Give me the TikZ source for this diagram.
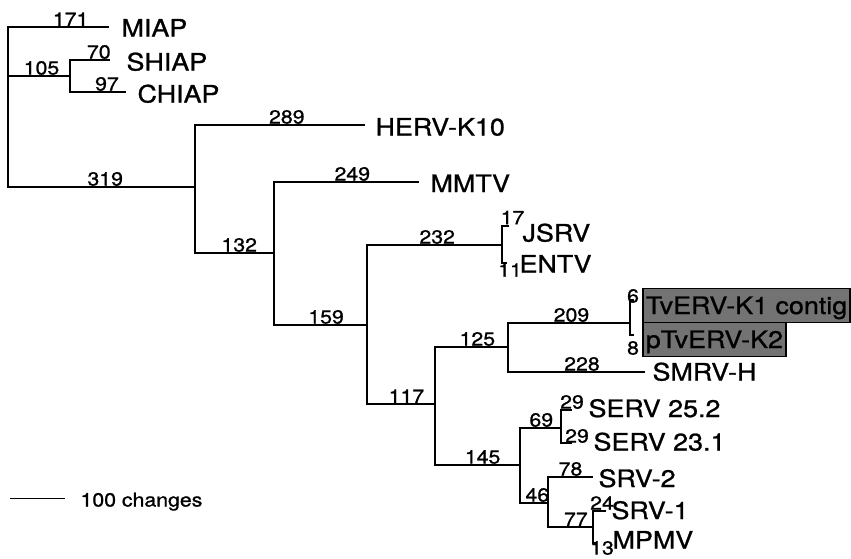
\documentclass[tikz,border=0pt]{standalone}
\usepackage{fontspec}
\setmainfont{TeX Gyre Heros}[FakeStretch=1.12,FakeBold=1.0]
\usetikzlibrary{positioning}

\begin{document}
\begin{tikzpicture}[x=1pt,y=-1pt,line width=1.1pt,
  taxon/.style={anchor=west,inner sep=0pt,font=\fontsize{24}{24}\selectfont,text height=17pt,text depth=0pt},
  num/.style={above,inner sep=0.6pt,font=\fontsize{19}{20}\selectfont},
  tipnum/.style={inner sep=0pt,font=\fontsize{19}{20}\selectfont},
  hilite/.style={taxon,draw=black,fill=black!55,line width=1.6pt,inner xsep=3pt,minimum height=34pt}]
  \useasboundingbox (0,0) rectangle (851,558);
  % internal nodes
  \coordinate (r0) at (8,107);
  \coordinate (n105) at (70,76);
  \coordinate (n319) at (195,187);
  \coordinate (n132) at (274,253);
  \coordinate (n159) at (367,325);
  \coordinate (n232) at (502,245);
  \coordinate (n117) at (435,404);
  \coordinate (n125) at (508,347);
  \coordinate (n209) at (630,323);
  \coordinate (n145) at (520,465);
  \coordinate (n69) at (561,428);
  \coordinate (n46) at (548,503);
  \coordinate (n77) at (593,527);
  % tips
  \coordinate (tMIAP) at (109,27);
  \coordinate (tSHIAP) at (110,60);
  \coordinate (tCHIAP) at (126,92);
  \coordinate (tHERV) at (365,125);
  \coordinate (tMMTV) at (419,182);
  \coordinate (tJSRV) at (509,226);
  \coordinate (tENTV) at (507,263);
  \coordinate (tTvK1) at (634,300);
  \coordinate (tTvK2) at (634,335);
  \coordinate (tSMRV) at (645,372);
  \coordinate (tSERVa) at (572,410);
  \coordinate (tSERVb) at (572,443);
  \coordinate (tSRVtwo) at (593,477);
  \coordinate (tSRVone) at (606,511);
  \coordinate (tMPMV) at (597,543);

  \draw (r0) |- (tMIAP) node[num,pos=.81] (l171) {171};
  \draw (r0) |- (n105) node[num,pos=.77] (l105) {105};
  \draw (n105) |- (tSHIAP) node[num,pos=.86] (l70) {70};
  \draw (n105) |- (tCHIAP) node[num,pos=.83] (l97) {97};
  \draw (r0) |- (n319) node[num,pos=.76] (l319) {319};
  \draw (n319) |- (tHERV) node[num,pos=.77] (l289) {289};
  \draw (n319) |- (n132) node[num,pos=.78] (l132) {132};
  \draw (n132) |- (tMMTV) node[num,pos=.77] (l249) {249};
  \draw (n132) |- (n159) node[num,pos=.78] (l159) {159};
  \draw (n159) |- (n232) node[num,pos=.76] (l232) {232};
  \draw (n232) |- (tJSRV);
  \draw (n232) |- (tENTV);
  \draw (n159) |- (n117) node[num,pos=.79] (l117) {117};
  \draw (n117) |- (n125) node[num,pos=.79] (l125) {125};
  \draw (n125) |- (n209) node[num,pos=.76] (l209) {209};
  \draw (n209) |- (tTvK1);
  \draw (n209) |- (tTvK2);
  \draw (n125) |- (tSMRV) node[num,pos=.77] (l228) {228};
  \draw (n117) |- (n145) node[num,pos=.78] (l145) {145};
  \draw (n145) |- (n69) node[num,pos=.76] (l69) {69};
  \draw (n69) |- (tSERVa);
  \draw (n69) |- (tSERVb);
  \draw (n145) |- (n46) node[num,pos=.81] (l46) {46};
  \draw (n46) |- (tSRVtwo) node[num,pos=.75] (l78) {78};
  \draw (n46) |- (n77) node[num,pos=.81] (l77) {77};
  \draw (n77) |- (tSRVone);
  \draw (n77) |- (tMPMV);

  % short branch lengths
  \foreach \x/\y/\n/\t in {512.5/217.5/k17/17,510/270/k11/11,633/296/k6/6,633/348/k8/8,
      572/402/k29a/29,577/436/k29b/29,602/503/k24/24,602/548/k13/13}
    \node[tipnum] (\n) at (\x,\y) {\t};

  % taxa
  \foreach \x/\y/\n/\t in {121/28/MIAP/MIAP,126/62/SHIAP/SHIAP,137/94/CHIAP/CHIAP,
      375/127/HERV/HERV-K10,430/183.5/MMTV/MMTV,522/233/JSRV/JSRV,519/264/ENTV/ENTV,
      652/372/SMRV/SMRV-H,588/408.5/SERVa/SERV 25.2,593/442/SERVb/SERV 23.1,
      598/478.5/SRVtwo/SRV-2,611/510.5/SRVone/SRV-1,612/540/MPMV/MPMV}
    \node[taxon] (\n) at (\x,\y) {\t};
  \node[hilite] (TvK1) at (642,305.5) {TvERV-K1 contig};
  \node[hilite] (TvK2) at (642,339.5) {pTvERV-K2};

  % scale
  \coordinate (sA) at (10,498);
  \coordinate (sB) at (65,498);
  \draw[line width=0.9pt] (sA) -- (sB);
  \node[anchor=base west,inner sep=0pt,font=\fontsize{19}{20}\selectfont] (scale) at (80,506.5) {100 changes};
\end{tikzpicture}
\end{document}
